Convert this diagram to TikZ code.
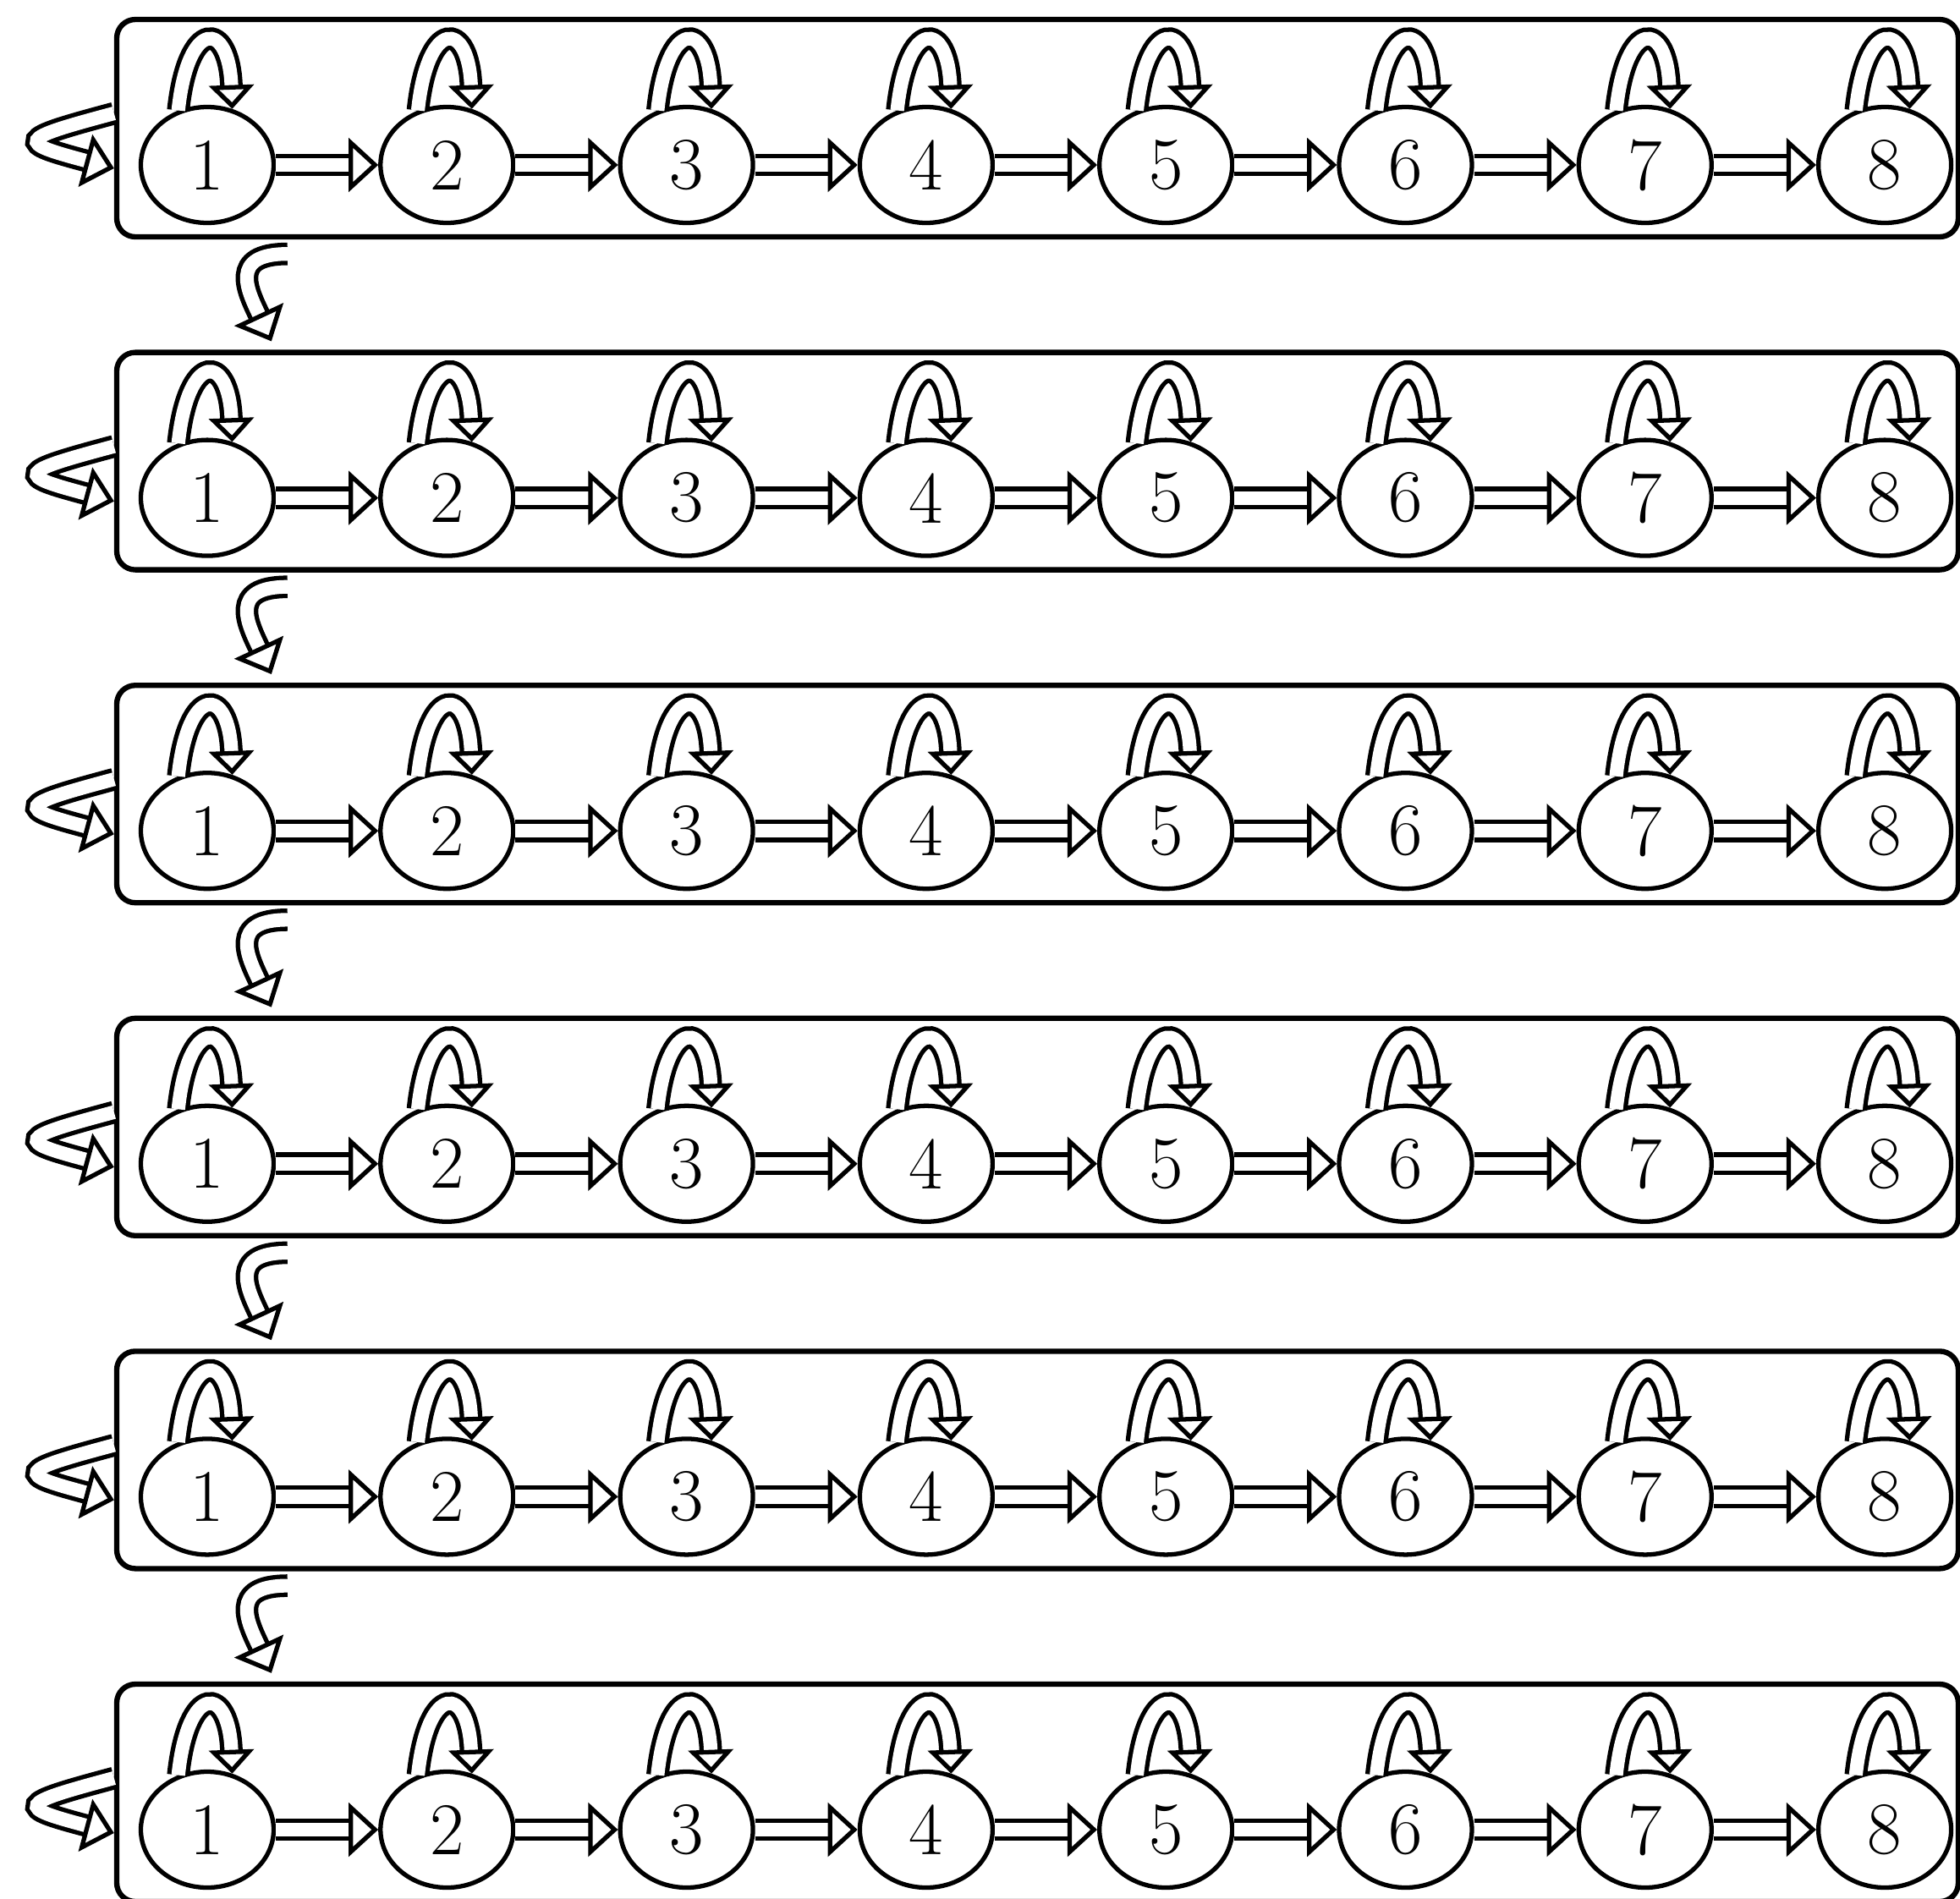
\documentclass[tikz,border=0pt]{standalone}
\usetikzlibrary{arrows.meta,calc,shapes.geometric}
\begin{document}
\begin{tikzpicture}[
    state/.style={draw, ellipse, line width=1.5pt, minimum width=1.57cm, minimum height=1.37cm, inner sep=0pt, font=\fontsize{25}{30}\selectfont},
    frame/.style={draw, rounded corners=0.22cm, line width=1.8pt, minimum width=21.77cm, minimum height=2.57cm},
    hollow/.style={double, line width=1.5pt, double distance=4.6pt, -{Triangle[open, length=10pt, width=18pt]}},
    selfloop/.style={hollow, -{Triangle[open, length=8pt, width=15pt]}}
]
    \useasboundingbox (0,0) rectangle (23.17,-22.45);

    \foreach \r in {1,...,6}{
        \pgfmathsetmacro{\y}{-1.95-3.936*(\r-1)}

        % Frame of one row
        \node[frame] (box\r) at (12.265, \y+0.435) {};

        % States of the row
        \foreach \i in {1,...,8}
            \node[state] (n\r-\i) at ({2.45+2.833*(\i-1)}, \y) {\i};

        % Forward arrows
        \foreach \i [evaluate=\i as \j using int(\i+1)] in {1,...,7}
            \draw[hollow] (n\r-\i) -- (n\r-\j);

        % Self-loops
        \foreach \i in {1,...,8}
            \draw[selfloop] (n\r-\i.118) .. controls +(84:1.1) and +(92:1.05) .. (n\r-\i.66);

        % Loop on the frame
        \draw[hollow] ($(box\r.west)+(0,0.175)$) .. controls +(195:1.2) and +(165:1.2) .. ($(box\r.west)+(0,-0.475)$);
    }

    % Arrows between the rows
    \foreach \r [evaluate=\r as \j using int(\r+1)] in {1,...,5}
        \draw[hollow] ($(box\r.south west)+(2.05,-0.17)$) .. controls +(180:0.7) and +(115:0.65) .. ($(box\j.north west)+(1.86,0.1)$);
\end{tikzpicture}
\end{document}
